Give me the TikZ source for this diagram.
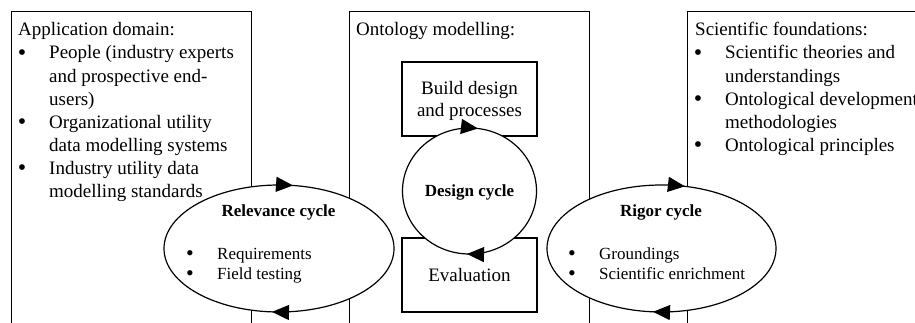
\documentclass[tikz,border=0pt]{standalone}
\usepackage{fontspec}
\setmainfont{Liberation Serif}
\usetikzlibrary{arrows.meta,decorations.markings}

\begin{document}
\begin{tikzpicture}[x=1pt,y=1pt,
  panel/.style={draw, line width=1.1pt, anchor=north west, inner sep=0, minimum height=340pt},
  stepbox/.style={draw, line width=1.1pt, fill=white, minimum width=135pt, minimum height=74pt, inner sep=0},
  txt/.style={inner sep=0, anchor=base west, font=\fontsize{19}{23}\selectfont},
  ctxt/.style={inner sep=0, anchor=base, font=\fontsize{19}{23}\selectfont},
  bul/.style={inner sep=0, anchor=base, yshift=-1.6pt, font=\fontsize{24}{24}\selectfont},
  stxt/.style={inner sep=0, anchor=base west, font=\fontsize{17}{20}\selectfont},
  sbul/.style={inner sep=0, anchor=base, yshift=-1.4pt, font=\fontsize{22}{22}\selectfont},
  cname/.style={inner sep=0, anchor=base, font=\bfseries\fontsize{17}{20}\selectfont},
  cycleline/.style={draw, line width=1.2pt, fill=white},
  tipmarks/.style 2 args={postaction=decorate, decoration={markings,
     mark=at position #1 with {\arrowreversed{Triangle[length=17pt,width=15pt]}},
     mark=at position #2 with {\arrowreversed{Triangle[length=17pt,width=15pt]}}}}
]
\useasboundingbox (0,0) rectangle (915,322);
\clip (0,0) rectangle (915,322);

% three open-bottomed panels
\node[panel, minimum width=240pt] (appbox) at (11,311) {};
\node[panel, minimum width=240pt] (ontbox) at (349,311) {};
\node[panel, minimum width=260pt] (scibox) at (687,311) {};

% application domain
\node[txt] (apptitle) at (18,286) {Application domain:};
\node[bul] (ab1) at (22,263) {•};
\node[txt] (a1) at (49,263) {People (industry experts};
\node[txt] (a2) at (49,240) {and prospective end-};
\node[txt] (a3) at (49,217) {users)};
\node[bul] (ab2) at (22,194) {•};
\node[txt] (a4) at (49,194) {Organizational utility};
\node[txt] (a5) at (49,171) {data modelling systems};
\node[bul] (ab3) at (22,148) {•};
\node[txt] (a6) at (49,148) {Industry utility data};
\node[txt] (a7) at (49,125) {modelling standards};

% ontology modelling
\node[txt] (onttitle) at (356,286) {Ontology modelling:};
\node[stepbox] (build) at (469.5,223) {};
\node[ctxt] (b1) at (469.5,228) {Build design};
\node[ctxt] (b2) at (469.5,205.5) {and processes};
\node[stepbox] (evalbox) at (469.5,47) {};
\node[ctxt] (ev) at (469.5,40.3) {Evaluation};

% scientific foundations
\node[txt] (scititle) at (695,286) {Scientific foundations:};
\node[bul] (sb1) at (698,263) {•};
\node[txt] (s1) at (725,263) {Scientific theories and};
\node[txt] (s2) at (725,240) {understandings};
\node[bul] (sb2) at (698,217) {•};
\node[txt] (s3) at (725,217) {Ontological development};
\node[txt] (s4) at (725,194) {methodologies};
\node[bul] (sb3) at (698,171) {•};
\node[txt] (s5) at (725,171) {Ontological principles};

% design cycle
\path[cycleline, tipmarks={0.2292}{0.7439}] (469.5,131) coordinate (dc) ellipse [x radius=67, y radius=63];
\node[cname] (dcname) at (469.5,125.3) {Design cycle};

% relevance cycle
\path[cycleline, tipmarks={0.2255}{0.7378}] (279,73.5) coordinate (rc) ellipse [x radius=115, y radius=63.5];
\node[cname] (rcname) at (278.5,105.3) {Relevance cycle};
\node[sbul] (rb1) at (190,63) {•};
\node[stxt] (r1) at (217,63) {Requirements};
\node[sbul] (rb2) at (190,43) {•};
\node[stxt] (r2) at (217,43) {Field testing};

% rigor cycle
\path[cycleline, tipmarks={0.2089}{0.7351}] (661.5,73.5) coordinate (gc) ellipse [x radius=114.5, y radius=63.5];
\node[cname] (gcname) at (661,105.3) {Rigor cycle};
\node[sbul] (gb1) at (572,63) {•};
\node[stxt] (g1) at (599,63) {Groundings};
\node[sbul] (gb2) at (572,43) {•};
\node[stxt] (g2) at (599,43) {Scientific enrichment};
\end{tikzpicture}
\end{document}
